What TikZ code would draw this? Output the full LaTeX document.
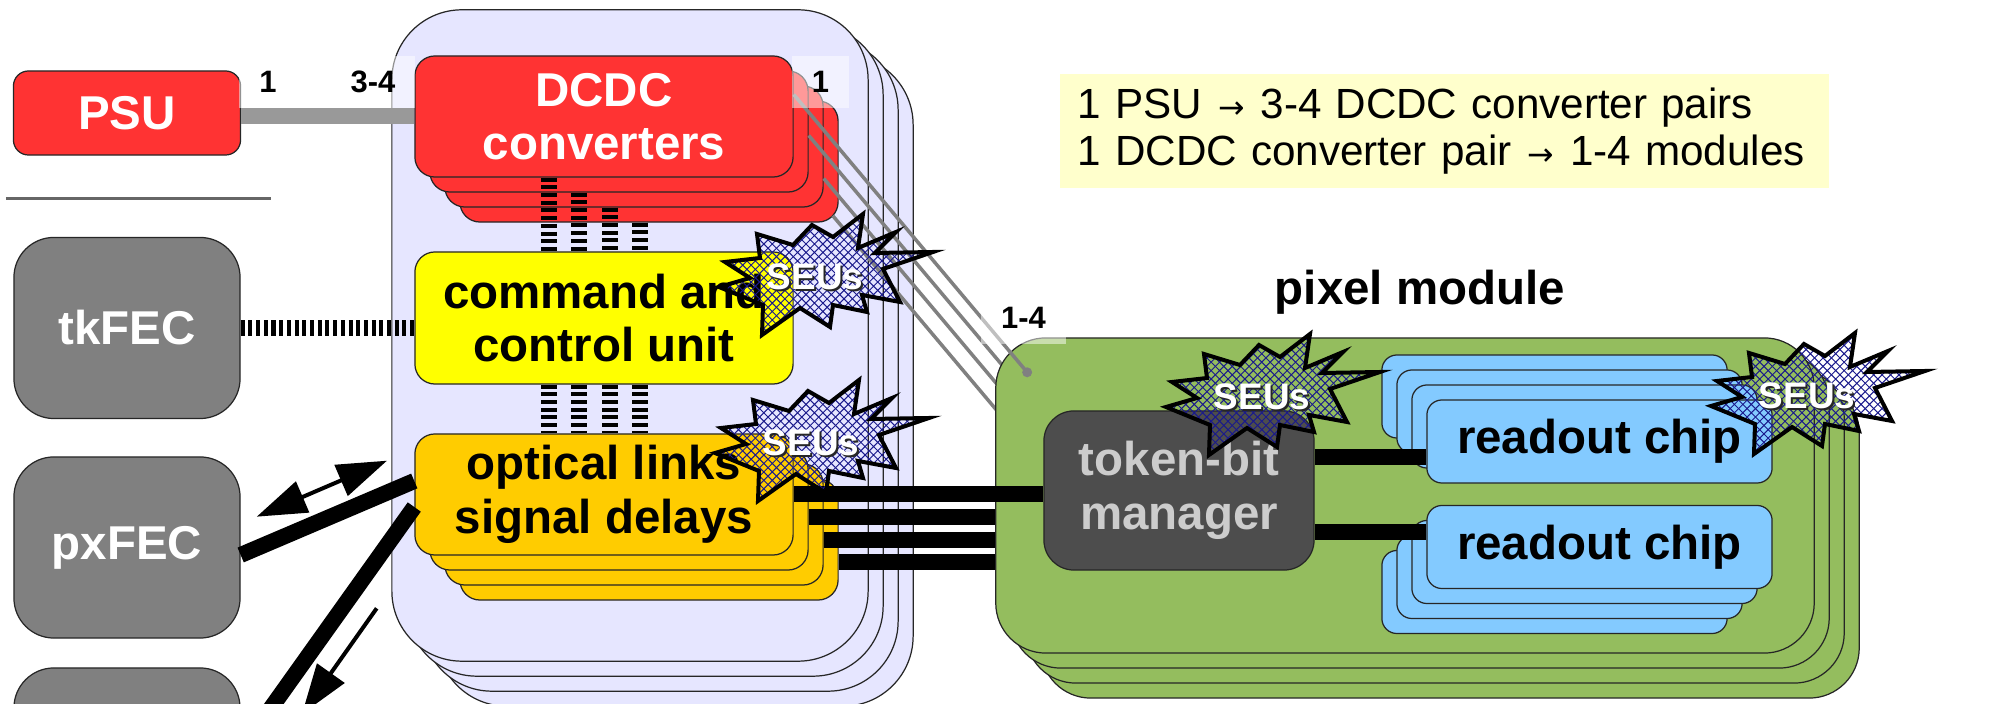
\documentclass[tikz,border=0pt]{standalone}
\usepackage{fontspec}
\setmainfont{Liberation Sans}
\newfontfamily\arrowfont{DejaVu Sans}
\usetikzlibrary{arrows.meta,calc,patterns.meta}

\definecolor{psured}{HTML}{FF3333}
\definecolor{fecgray}{HTML}{808080}
\definecolor{cratebg}{HTML}{E6E6FF}
\definecolor{ccuyellow}{HTML}{FFFF00}
\definecolor{optorange}{HTML}{FFCC00}
\definecolor{modgreen}{HTML}{94BD5E}
\definecolor{tbmgray}{HTML}{4D4D4D}
\definecolor{tbmtext}{HTML}{CCCCCC}
\definecolor{rocblue}{HTML}{83CAFF}
\definecolor{legendbg}{HTML}{FFFFCC}
\definecolor{seublue}{HTML}{1A1A8C}

% diagonal cross hatch for the upset bursts
\tikzdeclarepattern{
  name=seu hatch,
  type=uncolored,
  bottom left={(-.1pt,-.1pt)},
  top right={(2.5pt,2.5pt)},
  tile size={(2.4pt,2.4pt)},
  code={
    \draw[line width=0.28pt] (0pt,0pt) -- (2.4pt,2.4pt) (0pt,2.4pt) -- (2.4pt,0pt);
  }
}

\newcommand{\legarrow}{\hspace{0.16cm}{\arrowfont\fontsize{9}{9}\selectfont →}\hspace{0.16cm}}

\tikzset{
  box/.style={draw=black!85, line width=0.35pt, inner sep=0pt, align=center},
  bigtext/.style={font=\bfseries\fontsize{13.5}{15.2}\selectfont},
  psubox/.style={box, bigtext, fill=psured, text=white, minimum width=2.27cm, minimum height=0.84cm, rounded corners=0.15cm},
  fec/.style={box, bigtext, fill=fecgray, text=white, minimum width=2.26cm, minimum height=1.81cm, rounded corners=0.4cm},
  cratebox/.style={box, fill=cratebg, minimum width=4.76cm, minimum height=6.51cm, rounded corners=0.7cm},
  dcdcbox/.style={box, fill=psured, text=white, minimum width=3.78cm, minimum height=1.21cm, rounded corners=0.2cm},
  ccubox/.style={box, fill=ccuyellow, minimum width=3.78cm, minimum height=1.32cm, rounded corners=0.2cm},
  optbox/.style={box, fill=optorange, minimum width=3.78cm, minimum height=1.21cm, rounded corners=0.2cm},
  modbox/.style={box, fill=modgreen, minimum width=8.18cm, minimum height=3.15cm, rounded corners=0.5cm},
  tbmbox/.style={box, fill=tbmgray, text=tbmtext, minimum width=2.70cm, minimum height=1.59cm, rounded corners=0.3cm},
  rocbox/.style={box, fill=rocblue, minimum width=3.45cm, minimum height=0.83cm, rounded corners=0.15cm},
  legend/.style={fill=legendbg, text width=7.33cm, inner xsep=0.18cm, minimum height=1.14cm, align=left, font=\fontsize{12}{13.4}\selectfont},
  num/.style={font=\bfseries\fontsize{8.8}{10}\selectfont, fill=white, fill opacity=0.5, text opacity=1, minimum height=0.52cm, inner xsep=0.2cm, inner ysep=0pt},
  dbus/.style={line width=0.16cm, dash pattern=on 0.04cm off 0.037cm},
  bus/.style={line width=0.16cm},
  pwr/.style={line width=0.16cm, draw=black!40},
  feed/.style={line width=0.035cm, draw=fecgray},
  sig/.style={line width=0.04cm},
  seuedge/.style={draw=black, line width=0.04cm, line join=miter, pattern=seu hatch, pattern color=seublue},
  seulabel/.style={font=\bfseries\fontsize{10.5}{10.5}\selectfont, text=white, inner sep=0pt},
  seu/.pic={
    \draw[seuedge] (38,-61) -- (33,-27) -- (71,-43) -- (50,-22) -- (108,-23) -- (58,-6)
      -- (75,27) -- (37,20) -- (42,37) -- (8,30) -- (5,52) -- (-25,33) -- (-63,60)
      -- (-62,30) -- (-106,12) -- (-75,3) -- (-100,-13) -- (-65,-17) -- (-68,-41)
      -- (-32,-30) -- (-13,-50) -- (8,-38) -- cycle;
    \node[seulabel, text=black!85] (-shade) at (-8,4) {SEUs};
    \node[seulabel] (-txt) at (-10,2) {SEUs};
  }
}

\begin{document}
\begin{tikzpicture}[x=0.01cm, y=-0.01cm, >={Triangle[length=0.5cm,width=0.33cm]}]
  \useasboundingbox (0,0) rectangle (2002,704);
  \clip (0,0) rectangle (2002,704);

  \node[legend, anchor=north west] (legend) at (1059,73)
    {1 PSU\legarrow 3-4 DCDC converter pairs\\1 DCDC converter pair\legarrow 1-4 modules};

  % supplies and front-end controllers
  \node[psubox] (psu) at (127,113) {PSU};
  \draw[black!60, line width=0.03cm] (6,199) -- (271,199);
  \node[fec] (tkfec) at (127,328) {tkFEC};
  \node[fec] (pxfec) at (127,547.5) {pxFEC};
  \node[fec] (fec4) at (127,758.5) {};

  % service cards
  \foreach \k in {4,3,2,1}
    \node[cratebox] (crate\k) at ({630+15*(\k-1)},{335.5+15*(\k-1)}) {};

  \node[ccubox, bigtext] (ccu) at (604,318) {command and\\control unit};

  \foreach \k in {4,3,2}
    \node[optbox] (opt\k) at ({604+15*(\k-1)},{494.5+15*(\k-1)}) {};
  \node[optbox, bigtext] (opt1) at (604,494.5) {optical links\\signal delays};

  \draw[bus] ($(pxfec.east)+(0,7.5)$) -- ($(opt1.west)+(0,-13.5)$);
  \draw[bus] ($(fec4.east)+(0,-8)$) -- ($(opt1.west)+(0,12.5)$);
  \coordinate (upA) at (256.7,516.7);
  \coordinate (upB) at (387,460.7);
  \draw[sig, <->] (upA) -- (upB);
  \coordinate (dnA) at (376.7,608.3);
  \coordinate (dnB) at (302,714);
  \draw[sig, ->] (dnA) -- (dnB);

  % converter stack, each with its own feed down to the CCU
  \foreach \k/\dx in {4/181,3/166,2/150}{
    \node[dcdcbox] (dcdc\k) at ({604+15*(\k-1)},{116.5+15*(\k-1)}) {};
    \draw[dbus] ($(dcdc\k.south west)+(\dx,0)$) coordinate (drop\k) -- (drop\k |- ccu.north);
  }
  \node[dcdcbox, bigtext] (dcdc1) at (604,116.5) {DCDC\\converters};
  \draw[dbus] ($(dcdc1.south west)+(135,0)$) coordinate (drop1) -- (drop1 |- ccu.north);

  \foreach \dx in {135,165,196,226}
    \draw[dbus] ($(ccu.south west)+(\dx,0)$) coordinate (rise) -- (rise |- opt1.north);

  \draw[pwr] (psu.east |- dcdc1.west) -- (dcdc1.west);
  \draw[dbus] (tkfec.east) -- (ccu.west |- tkfec.east);

  % low voltage feeds to the modules
  \coordinate (feed1) at ($(dcdc1.east)+(0,-22)$);
  \coordinate (feed2) at ($(dcdc2.east)+(0,4)$);
  \coordinate (feed3) at ($(dcdc3.east)+(0,32)$);
  \coordinate (feed4) at ($(dcdc4.south east)+(-6,-7)$);
  \foreach \k in {2,3,4}
    \draw[feed] (feed\k) -- ++(235,279);

  % pixel module stack
  \foreach \k in {4,3,2,1}
    \node[modbox] (mod\k) at ({1405+15*(\k-1)},{495.5+15*(\k-1)}) {};
  \node[bigtext, anchor=base] (modtitle) at (1420,305) {pixel module};

  \foreach \k/\dy in {2/7.5,3/15.5,4/23}
    \draw[bus] ($(opt\k.east)+(0,\dy)$) coordinate (tx) -- (tx -| mod1.west);

  \foreach \k in {4,3,2}
    \node[rocbox] (roca\k) at ({1599.5-15*(\k-1)},{441.5-15*(\k-1)}) {};
  \node[rocbox, bigtext] (roca1) at (1599.5,441.5) {readout chip};
  \foreach \k in {4,3,2}
    \node[rocbox] (rocb\k) at ({1599.5-15*(\k-1)},{547+15*(\k-1)}) {};
  \node[rocbox, bigtext] (rocb1) at (1599.5,547) {readout chip};

  \node[tbmbox, bigtext] (tbm) at (1179,490.5) {token-bit\\manager};

  \draw[bus] (opt1.east) -- (opt1.east -| tbm.west);
  \coordinate (r1in) at ($(roca1.west)+(0,16)$);
  \coordinate (r2in) at ($(rocb1.west)+(0,-14.5)$);
  \draw[bus] (tbm.east |- r1in) -- (r1in);
  \draw[bus] (tbm.east |- r2in) -- (r2in);

  \coordinate (tap) at ($(mod1.north west)+(32,35)$);
  \draw[feed] (feed1) -- (tap);
  \fill[fecgray] (tap) circle[radius=0.05cm];

  % multiplicities
  \node[num] (n1) at (268,82) {1};
  \node[num] (n34) at (373,82) {3-4};
  \node[num] (n1b) at (820.5,82) {1};
  \node[num] (n14) at (1023.5,318) {1-4};

  % single event upsets
  \pic (seu1) at (825,275) {seu};
  \pic (seu2) at (821,441) {seu};
  \pic (seu3) at (1272,395) {seu};
  \pic (seu4) at (1817,394) {seu};
\end{tikzpicture}
\end{document}
